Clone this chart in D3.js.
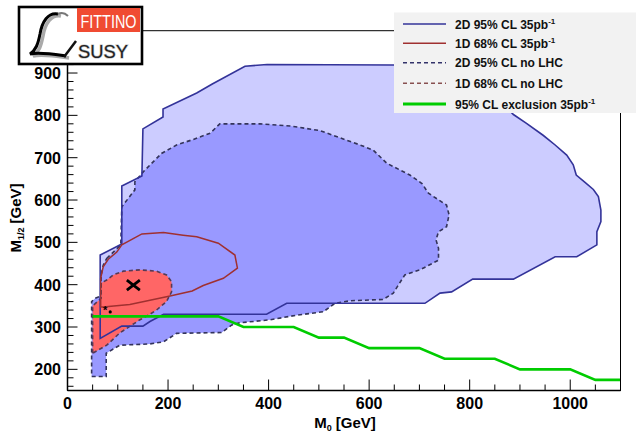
<!DOCTYPE html>
<html>
<head>
<meta charset="utf-8">
<script src="https://cdn.jsdelivr.net/npm/d3@7/dist/d3.min.js"></script>
<style>
  body { margin: 0; background: #fff; }
  text { font-family: "Liberation Sans", Arial, sans-serif; font-weight: bold; }
</style>
</head>
<body>
<svg id="chart" width="636" height="434"></svg>
<script>
// axis ticks
const xTicks = [0, 200, 400, 600, 800, 1000];
const yTicks = [200, 300, 400, 500, 600, 700, 800, 900];

// contours, [M0, M1/2] in GeV
const cl95Lhc = [[65,273],[65,470],[108,496],[108,633],[148,657],[150,768],[190,796],[190,815],[257,853],[288,874],[353,916],[397,920],[648,919],[741,916],[801,902],[850,848],[887,802],[913,781],[946,753],[970,730],[993,706],[1006,683],[1012,659],[1030,641],[1046,625],[1056,608],[1061,576],[1061,549],[1053,525],[1053,494],[1013,466],[970,466],[887,413],[806,413],[764,383],[741,380],[711,356],[436,356],[396,330],[191,330],[164,313],[150,302],[108,302]];
const cl95NoLhc = [[78,462],[106,494],[108,584],[134,624],[134,643],[151,667],[187,710],[217,730],[250,743],[284,758],[303,780],[383,780],[443,775],[502,764],[582,730],[608,718],[635,687],[681,659],[705,639],[718,616],[754,588],[759,565],[754,537],[738,525],[733,506],[738,486],[738,458],[701,435],[671,423],[658,399],[648,380],[628,365],[562,362],[532,356],[509,336],[456,328],[403,317],[343,310],[327,305],[307,287],[217,285],[191,265],[164,260],[104,257],[77,238],[77,183],[48,183],[48,360],[55,368],[66,373],[67,423],[71,446]];
const cl68NoLhc = [[50,238],[50,350],[67,368],[67,404],[78,411],[91,423],[111,432],[144,435],[177,432],[197,423],[207,407],[207,383],[197,360],[177,340],[161,328],[144,317],[104,286],[78,257]];
const cl68Lhc = [[66,347],[66,415],[71,442],[81,460],[98,477],[108,494],[148,520],[191,523],[230,517],[257,513],[300,498],[333,470],[338,439],[310,415],[270,398],[248,385],[204,373],[164,363],[124,353],[71,347]];
const exclusion35 = [[50,325],[300,325],[350,300],[450,300],[500,275],[550,275],[600,250],[700,250],[750,225],[850,225],[900,200],[1000,200],[1050,175],[1100,175]];
const bestFit = [131, 399];
const bestFitNoLhc = [75, 345];

const legendLabels = ["2D 95% CL 35pb", "1D 68% CL 35pb", "2D 95% CL no LHC", "1D 68% CL no LHC", "95% CL exclusion 35pb"];
const legendSup = ["-1", "-1", "", "", "-1"];

const svg = d3.select("#chart");
const margin = { top: 30.7, right: 15.5, bottom: 43.5, left: 67.5 };
const W = 636, H = 434;

const x = d3.scaleLinear().domain([0, 1100]).range([margin.left, W - margin.right]);
const y = d3.scaleLinear().domain([150, 1000]).range([H - margin.bottom, margin.top]);

const line = d3.line().x(d => x(d[0])).y(d => y(d[1]));
const closed = pts => line(pts) + "Z";

const blue = "#333399", red = "#a03030";

// fills first
svg.append("path").attr("d", closed(cl95Lhc)).attr("fill", "#ccccff");
svg.append("path").attr("d", closed(cl95NoLhc)).attr("fill", "#9999ff");
svg.append("path").attr("d", closed(cl68NoLhc)).attr("fill", "#ff6666");

// outlines
svg.append("path").attr("d", closed(cl95NoLhc)).attr("fill", "none")
  .attr("stroke", "#33335a").attr("stroke-width", 1.6).attr("stroke-dasharray", "4,3");
svg.append("path").attr("d", closed(cl68NoLhc)).attr("fill", "none")
  .attr("stroke", "#553a55").attr("stroke-width", 1.6).attr("stroke-dasharray", "4,3");
svg.append("path").attr("d", closed(cl95Lhc)).attr("fill", "none")
  .attr("stroke", blue).attr("stroke-width", 1.6);
svg.append("path").attr("d", closed(cl68Lhc)).attr("fill", "none")
  .attr("stroke", red).attr("stroke-width", 1.5);
svg.append("path").attr("d", line(exclusion35)).attr("fill", "none")
  .attr("stroke", "#00cc00").attr("stroke-width", 2.6);

// best fit markers
const bx = x(bestFit[0]), by = y(bestFit[1]);
svg.append("path").attr("d", `M${bx-6.5},${by-5}L${bx+6.5},${by+5}M${bx-6.5},${by+5}L${bx+6.5},${by-5}`)
  .attr("stroke", "#000").attr("stroke-width", 2.8);
svg.append("text").attr("x", x(bestFitNoLhc[0])).attr("y", y(bestFitNoLhc[1]) + 6)
  .attr("text-anchor", "middle").style("font-size", "11px").text("*");
svg.append("circle").attr("cx", x(bestFitNoLhc[0]) + 5).attr("cy", y(bestFitNoLhc[1]) + 4).attr("r", 1.6);

// frame
const x0 = x.range()[0], x1 = x.range()[1], y0 = y.range()[0], y1 = y.range()[1];
svg.append("rect").attr("x", x0).attr("y", y1).attr("width", x1 - x0).attr("height", y0 - y1)
  .attr("fill", "none").attr("stroke", "#000").attr("stroke-width", 1);

// axis ticks (drawn inside like ROOT)
const ax = svg.append("g").attr("stroke", "#000").attr("stroke-width", 1);
d3.range(0, 1101, 50).forEach(v => {
  const major = v % 200 === 0;
  ax.append("line").attr("x1", x(v)).attr("x2", x(v)).attr("y1", y0).attr("y2", y0 - (major ? 11 : 6));
});
d3.range(160, 1001, 20).forEach(v => {
  const major = v % 100 === 0;
  ax.append("line").attr("y1", y(v)).attr("y2", y(v)).attr("x1", x0).attr("x2", x0 + (major ? 10 : 6));
});
svg.append("line").attr("x1", x0).attr("x2", x1).attr("y1", y0).attr("y2", y0).attr("stroke", "#000").attr("stroke-width", 1.5);
svg.append("line").attr("x1", x0).attr("x2", x0).attr("y1", y0).attr("y2", y1).attr("stroke", "#000").attr("stroke-width", 1.5);

xTicks.forEach(v => {
  svg.append("text").attr("x", x(v)).attr("y", 409).attr("text-anchor", "middle")
    .style("font-size", "16px").text(v);
});
yTicks.forEach(v => {
  svg.append("text").attr("x", 61).attr("y", y(v) + 6).attr("text-anchor", "end")
    .style("font-size", "16px").text(v);
});

// axis titles
const xt = svg.append("text").attr("x", 345).attr("y", 428).attr("text-anchor", "middle").style("font-size", "15px");
xt.append("tspan").text("M");
xt.append("tspan").attr("dy", 3).style("font-size", "9px").text("0");
xt.append("tspan").attr("dy", -3).text(" [GeV]");

const yt = svg.append("text").attr("transform", "translate(21,218) rotate(-90)").attr("text-anchor", "middle").style("font-size", "15px");
yt.append("tspan").text("M");
yt.append("tspan").attr("dy", 3).style("font-size", "9px").text("1/2");
yt.append("tspan").attr("dy", -3).text(" [GeV]");

// legend
const lg = svg.append("g");
lg.append("rect").attr("x", 394).attr("y", 12.5).attr("width", 245).attr("height", 100.5).attr("fill", "#f2f2f2");
const legendStyle = [
  { stroke: blue, dash: null, w: 1.6 },
  { stroke: red, dash: null, w: 1.6 },
  { stroke: "#33336a", dash: "4,3", w: 1.5 },
  { stroke: "#885050", dash: "4,3", w: 1.5 },
  { stroke: "#00cc00", dash: null, w: 3 }
];
const rowY = [24, 43.3, 62.7, 83.3, 104];
legendLabels.forEach((lab, i) => {
  const st = legendStyle[i];
  lg.append("line").attr("x1", 403).attr("x2", 446).attr("y1", rowY[i]).attr("y2", rowY[i])
    .attr("stroke", st.stroke).attr("stroke-width", st.w).attr("stroke-dasharray", st.dash);
  const t = lg.append("text").attr("x", 455).attr("y", rowY[i] + 4.5).style("font-size", "12px").attr("fill", "#111");
  t.append("tspan").text(lab);
  if (legendSup[i]) t.append("tspan").attr("dy", -5).style("font-size", "8px").text(legendSup[i]);
});

// logo
const logo = svg.append("g");
logo.append("rect").attr("x", 19).attr("y", 7).attr("width", 123).attr("height", 57)
  .attr("fill", "#fff").attr("stroke", "#000").attr("stroke-width", 2.6);
logo.append("rect").attr("x", 77).attr("y", 8).attr("width", 63).attr("height", 24).attr("fill", "#f04b32");
logo.append("text").attr("x", 108.5).attr("y", 28).attr("text-anchor", "middle").attr("fill", "#fff")
  .style("font-family", "'Liberation Sans Narrow', 'Liberation Sans', sans-serif").style("font-weight", "normal")
  .style("font-size", "19px").attr("textLength", 56).attr("lengthAdjust", "spacingAndGlyphs").text("FITTINO");
logo.append("text").attr("x", 103).attr("y", 58).attr("text-anchor", "middle").attr("fill", "#222")
  .style("font-weight", "normal").style("font-size", "19px").attr("textLength", 50).attr("lengthAdjust", "spacingAndGlyphs")
  .style("paint-order", "stroke").attr("stroke", "#bbb").attr("stroke-width", 1.2).text("SUSY");
// script L drawn as strokes with a grey shadow
const lShape = "M58,14 C48,12 42,22 40,34 C38,44 36,50 30,54 C40,52 52,54 66,56";
logo.append("path").attr("d", lShape).attr("transform", "translate(3,2)").attr("fill", "none")
  .attr("stroke", "#aaa").attr("stroke-width", 3.5);
logo.append("path").attr("d", lShape).attr("fill", "none").attr("stroke", "#000").attr("stroke-width", 3);
logo.append("path").attr("d", "M58,14 C62,12 66,14 68,16").attr("fill", "none").attr("stroke", "#777").attr("stroke-width", 2);
logo.append("path").attr("d", "M64,57 L76,41").attr("stroke", "#111").attr("stroke-width", 2.5);
</script>
</body>
</html>
